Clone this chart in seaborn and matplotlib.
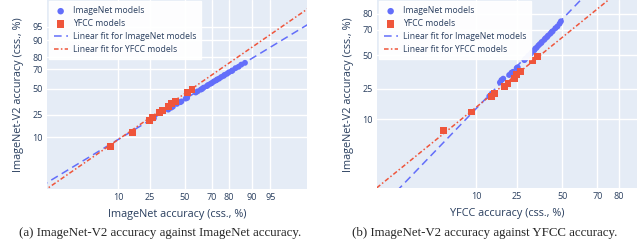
from statistics import NormalDist

import matplotlib.pyplot as plt
import numpy as np
import seaborn as sns

# ImageNet models: accuracy on ImageNet, ImageNet-V2 and YFCC (%)
in_imagenet = [25.0, 27.5, 37.4, 39.5, 40.8, 43.9, 46.5, 47.3, 50.6, 51.7, 58.2, 59.6,
               62.0, 62.9, 64.0, 66.3, 67.2, 68.9, 69.8, 71.1, 72.6, 73.3, 74.5, 75.8,
               77.2, 77.7, 79.1, 80.1, 81.6, 82.0, 83.5, 84.9, 86.1, 87.6]
in_v2 = [20.5, 22.0, 29.3, 31.0, 32.0, 34.7, 36.4, 37.1, 40.0, 40.6, 46.3, 47.5,
         49.3, 50.0, 51.4, 53.0, 54.2, 55.5, 56.3, 57.9, 59.0, 60.0, 60.8, 62.4,
         63.5, 64.5, 65.6, 67.0, 68.2, 68.8, 70.9, 72.1, 74.0, 75.5]
in_yfcc = [13.8, 14.6, 17.6, 18.2, 18.9, 21.4, 22.4, 23.1, 24.8, 25.3, 28.6, 29.2,
           30.5, 30.8, 31.9, 32.6, 33.8, 34.3, 35.1, 36.0, 36.8, 37.7, 38.0, 39.4,
           40.0, 41.0, 41.6, 42.9, 43.7, 44.3, 45.9, 47.1, 48.4, 49.2]

# YFCC models
yf_imagenet = [7.5, 15.6, 24.6, 26.7, 31.0, 33.4, 37.9, 39.7, 42.9, 52.3, 55.4]
yf_v2 = [6.4, 12.7, 20.5, 22.4, 26.5, 28.5, 32.4, 35.4, 37.0, 45.9, 49.2]
yf_yfcc = [3.8, 8.7, 14.7, 15.6, 19.5, 20.9, 23.6, 24.8, 26.7, 33.0, 35.4]

# linear fits in css. (probit) space: (slope, intercept)
fit_a_imagenet = (0.832, -0.265)
fit_a_yfcc = (0.947, -0.12)
fit_b_imagenet = (1.405, 0.734)
fit_b_yfcc = (1.097, 0.366)

ticks_a = [10, 25, 50, 70, 80, 90, 95]
ticks_b = [10, 25, 50, 70, 80]

BLUE = '#636EFA'
RED = '#EF553B'
TXT = '#2a3f5f'

_nd = NormalDist()


def probit(vals):
    """percent -> probit (css.) scale"""
    return np.array([_nd.inv_cdf(v / 100) for v in vals])


def draw_panel(ax, x_in, x_yf, fit_in, fit_yf, xlabel, xticks, yticks, xlim, ylim):
    ax.set_facecolor('#E5ECF6')
    xs = np.array([xlim[0] - 1, xlim[1] + 1])

    sns.scatterplot(x=probit(x_in), y=probit(in_v2), ax=ax, color=BLUE, s=18, marker='o',
                    edgecolor='none', zorder=3, label='ImageNet models')
    sns.scatterplot(x=probit(x_yf), y=probit(yf_v2), ax=ax, color=RED, s=25, marker='s',
                    edgecolor='none', zorder=4, label='YFCC models')
    ax.plot(xs, fit_in[0] * xs + fit_in[1], color=BLUE, lw=1.1, ls=(0, (5, 3)), zorder=2,
            label='Linear fit for ImageNet models')
    ax.plot(xs, fit_yf[0] * xs + fit_yf[1], color=RED, lw=1.1, ls=(0, (3, 1.5, 1, 1.5)),
            zorder=2, label='Linear fit for YFCC models')

    ax.set_xlim(*xlim)
    ax.set_ylim(*ylim)
    ax.set_xticks(probit(xticks))
    ax.set_xticklabels([str(t) for t in xticks])
    ax.set_yticks(probit(yticks))
    ax.set_yticklabels([str(t) for t in yticks])
    ax.grid(True, color='white', lw=1.0)
    ax.set_axisbelow(True)
    ax.tick_params(length=0, labelsize=6.5, labelcolor=TXT, pad=3)
    for s in ax.spines.values():
        s.set_visible(False)
    ax.set_xlabel(xlabel, fontsize=7.8, color=TXT, labelpad=5)
    ax.set_ylabel('ImageNet-V2 accuracy (css., %)', fontsize=7.8, color=TXT, labelpad=6)

    leg = ax.legend(loc='upper left', frameon=True, fontsize=6.2, borderaxespad=0.15,
                    handlelength=1.6, handletextpad=0.6, labelspacing=0.45,
                    borderpad=0.6, fancybox=False, markerscale=1.1)
    leg.get_frame().set_facecolor('white')
    leg.get_frame().set_edgecolor('white')
    leg.get_frame().set_alpha(0.95)
    for t in leg.get_texts():
        t.set_color(TXT)


sns.set_style('white')
plt.rcParams['font.family'] = ['Open Sans', 'DejaVu Sans']

fig = plt.figure(figsize=(6.4, 2.43), dpi=100)
ax1 = fig.add_axes([47.3 / 640, 53.7 / 243, 259.7 / 640, 189.3 / 243])
ax2 = fig.add_axes([377.3 / 640, 54.7 / 243, 259.4 / 640, 188.3 / 243])

draw_panel(ax1, in_imagenet, yf_imagenet, fit_a_imagenet, fit_a_yfcc,
           'ImageNet accuracy (css., %)', ticks_a, ticks_a, (-2.65, 2.35), (-2.65, 2.35))
draw_panel(ax2, in_yfcc, yf_yfcc, fit_b_imagenet, fit_b_yfcc,
           'YFCC accuracy (css., %)', ticks_b, ticks_b, (-2.76, 1.11), (-2.68, 1.12))

fig.text(160 / 640, 1 - 233 / 243, '(a) ImageNet-V2 accuracy against ImageNet accuracy.',
         ha='center', va='center', fontsize=9.3, family='Liberation Serif')
fig.text(485 / 640, 1 - 233 / 243, '(b) ImageNet-V2 accuracy against YFCC accuracy.',
         ha='center', va='center', fontsize=9.3, family='Liberation Serif')

fig.savefig('out.png', dpi=100)
